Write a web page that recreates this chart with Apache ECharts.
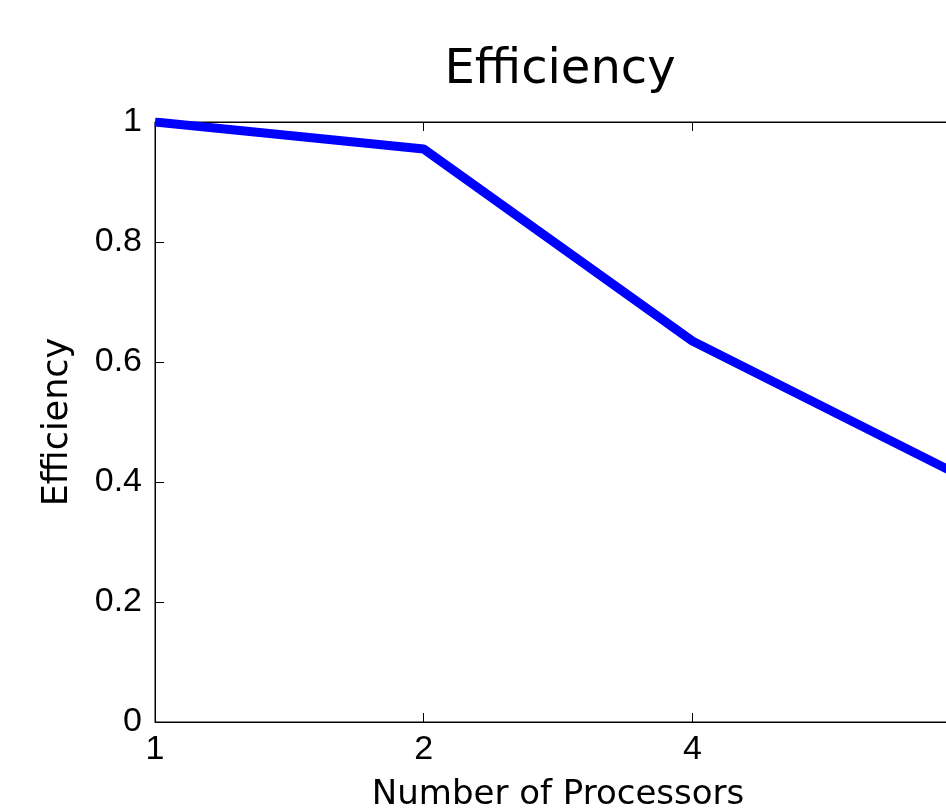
<!DOCTYPE html>
<html>
<head>
<meta charset="utf-8">
<script src="https://cdn.jsdelivr.net/npm/echarts@6/dist/echarts.min.js"></script>
<style>html,body{margin:0;padding:0;background:#fff;}#chart{width:946px;height:809px;}</style>
</head>
<body>
<div id="chart"></div>
<script>
const processors = [1, 2, 4, 8];
const efficiency = [1.0, 0.955, 0.635, 0.41];
const yTicks = [0, 0.2, 0.4, 0.6, 0.8, 1];
const titleText = 'Efficiency';
const xName = 'Number of Processors';
const yName = 'Efficiency';

const chart = echarts.init(document.getElementById('chart'));
const tickFont = {fontFamily: '"Liberation Sans", Arial, sans-serif', fontSize: 34, color: '#000'};
chart.setOption({
  animation: false,
  backgroundColor: '#fff',
  title: {
    text: titleText, left: 555, top: 42, textAlign: 'center',
    textStyle: {fontFamily: 'DejaVu Sans', fontSize: 48, fontWeight: 'normal', color: '#000'}
  },
  grid: {left: 155, top: 122, width: 806, height: 600, outerBoundsMode: 'none', containLabel: false,
         show: true, borderColor: '#000', borderWidth: 1, backgroundColor: 'transparent'},
  xAxis: [{
    type: 'log', logBase: 2, min: 1, max: 8,
    name: xName, nameLocation: 'middle', nameGap: 56,
    nameTextStyle: {fontFamily: 'DejaVu Sans', fontSize: 34, color: '#000'},
    axisLine: {show: true, lineStyle: {color: '#000', width: 1}},
    axisTick: {show: true, inside: true, length: 9, lineStyle: {color: '#000'}},
    axisLabel: Object.assign({margin: 11}, tickFont),
    splitLine: {show: false}, minorTick: {show: false}
  }, {
    type: 'log', logBase: 2, min: 1, max: 8, position: 'top',
    axisLine: {show: true, lineStyle: {color: '#000', width: 1}},
    axisTick: {show: true, inside: true, length: 9, lineStyle: {color: '#000'}},
    axisLabel: {show: false}, splitLine: {show: false}
  }],
  yAxis: {
    type: 'value', min: yTicks[0], max: yTicks[yTicks.length - 1], interval: 0.2,
    name: yName, nameLocation: 'middle', nameGap: 80, nameRotate: 90,
    nameTextStyle: {fontFamily: 'DejaVu Sans', fontSize: 35, color: '#000'},
    axisLine: {show: true, lineStyle: {color: '#000', width: 1}},
    axisTick: {show: true, inside: true, length: 9, lineStyle: {color: '#000'}},
    axisLabel: Object.assign({margin: 13}, tickFont),
    splitLine: {show: false}
  },
  series: [{
    type: 'line', xAxisIndex: 0,
    data: processors.map((p, i) => [p, efficiency[i]]),
    showSymbol: false, symbol: 'none', clip: true,
    lineStyle: {color: '#0000ff', width: 9},
    z: 1
  }]
});
</script>
</body>
</html>
